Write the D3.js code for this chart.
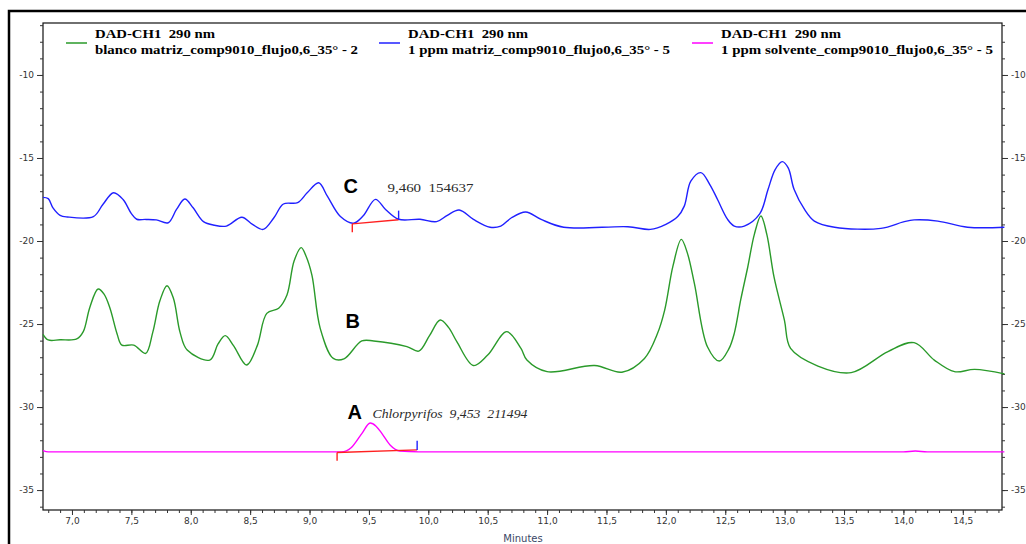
<!DOCTYPE html>
<html>
<head>
<meta charset="utf-8">
<script src="https://cdn.jsdelivr.net/npm/d3@7"></script>
<style>
  body { margin: 0; background: #fff; }
  text { white-space: pre; }
</style>
</head>
<body>
<svg width="1026" height="544"></svg>
<script>
// chromatogram traces, [minutes, value]
var blancoMatriz = [
  [6.756,-25.62],[6.80,-25.96],[6.90,-25.95],[7.04,-25.9],[7.095,-25.46],[7.15,-24.0],[7.22,-22.89],
  [7.27,-23.2],[7.32,-24.05],[7.38,-25.6],[7.42,-26.27],[7.52,-26.27],[7.62,-26.77],[7.68,-25.5],
  [7.74,-23.6],[7.80,-22.69],[7.854,-23.45],[7.91,-25.5],[7.97,-26.57],[8.16,-27.17],[8.23,-26.2],
  [8.29,-25.7],[8.36,-26.3],[8.47,-27.47],[8.56,-26.3],[8.64,-24.36],[8.74,-24.05],[8.81,-23.25],
  [8.87,-21.2],[8.93,-20.4],[8.97,-20.9],[9.02,-22.05],[9.09,-25.26],[9.20,-27.07],[9.29,-27.1],
  [9.44,-26.02],[9.54,-26.02],[9.82,-26.36],[9.92,-26.63],[10.01,-25.7],[10.10,-24.76],[10.17,-25.2],
  [10.24,-26.06],[10.38,-27.5],[10.50,-26.87],[10.66,-25.46],[10.78,-26.47],[10.83,-27.17],
  [11.00,-27.87],[11.40,-27.5],[11.63,-27.9],[11.82,-27.07],[11.93,-25.56],[11.99,-24.16],
  [12.06,-21.5],[12.13,-19.9],[12.18,-20.7],[12.24,-22.55],[12.35,-26.37],[12.45,-27.23],
  [12.53,-26.5],[12.576,-25.56],[12.63,-23.55],[12.69,-21.55],[12.745,-19.6],[12.80,-18.49],
  [12.85,-19.6],[12.91,-22.15],[12.998,-24.76],[13.05,-26.47],[13.28,-27.53],[13.56,-27.93],
  [13.87,-26.66],[14.09,-26.12],[14.26,-27.17],[14.43,-27.87],[14.60,-27.73],[14.85,-28.0]
];

var ppmMatriz = [
  [6.756,-17.37],[6.80,-17.45],[6.84,-18.0],[6.90,-18.45],[6.96,-18.55],[7.18,-18.53],[7.26,-17.8],
  [7.35,-17.09],[7.43,-17.5],[7.50,-18.35],[7.545,-18.69],[7.62,-18.7],[7.71,-18.73],[7.81,-18.9],
  [7.88,-18.1],[7.95,-17.47],[8.02,-18.0],[8.107,-18.83],[8.20,-19.05],[8.30,-19.1],[8.43,-18.57],
  [8.52,-19.0],[8.61,-19.3],[8.70,-18.6],[8.78,-17.77],[8.90,-17.69],[8.98,-17.1],[9.077,-16.49],
  [9.15,-17.3],[9.26,-18.53],[9.37,-18.93],[9.45,-18.5],[9.555,-17.49],[9.64,-18.1],[9.75,-18.69],
  [9.93,-18.69],[10.07,-18.83],[10.16,-18.45],[10.26,-18.13],[10.38,-18.7],[10.52,-19.17],
  [10.61,-19.1],[10.70,-18.6],[10.82,-18.25],[10.95,-18.7],[11.14,-19.17],[11.68,-19.14],
  [11.87,-19.3],[12.00,-19.0],[12.10,-18.53],[12.155,-17.9],[12.21,-16.4],[12.295,-15.88],
  [12.37,-16.6],[12.435,-17.5],[12.52,-18.7],[12.576,-19.1],[12.66,-19.1],[12.79,-18.37],
  [12.86,-16.9],[12.92,-15.7],[12.98,-15.22],[13.03,-15.6],[13.08,-16.9],[13.17,-18.13],
  [13.25,-18.8],[13.42,-19.17],[13.81,-19.24],[14.0,-18.85],[14.09,-18.73],[14.29,-18.8],
  [14.54,-19.17],[14.85,-19.17]
];

var ppmSolvente = [
  [6.756,-32.62],[6.80,-32.7],[9.27,-32.7],[9.35,-32.45],[9.44,-31.6],[9.51,-30.96],[9.56,-31.15],
  [9.61,-31.6],[9.68,-32.3],[9.76,-32.65],[9.92,-32.7],[14.0,-32.7],[14.1,-32.65],[14.2,-32.7],
  [14.85,-32.7]
];

var legendLines = [
  ["DAD-CH1  290 nm", "blanco matriz_comp9010_flujo0,6_35° - 2"],
  ["DAD-CH1  290 nm", "1 ppm matriz_comp9010_flujo0,6_35° - 5"],
  ["DAD-CH1  290 nm", "1 ppm solvente_comp9010_flujo0,6_35° - 5"]
];
var seriesColors = ["#2a9a2a", "#2020ff", "#ff00ff"];

// integration baselines: [start, end] as [minutes, value]
var baselineC = [[9.36,-18.97],[9.75,-18.72]];
var baselineA = [[9.232,-32.74],[9.906,-32.58]];

var peakNotes = [
  {tag: "C", t: 9.285, v: -17.11, label: "9,460  154637", lt: 9.656, italic: false, w: 86},
  {tag: "B", t: 9.302, v: -25.22, label: "", lt: 0, italic: false, w: 0},
  {tag: "A", t: 9.319, v: -30.72, label: "Chlorpyrifos  9,453  211494", lt: 9.53, italic: true, w: 155}
];

var svg = d3.select('svg');
var frame = {left: 43, right: 1002, top: 23, bottom: 510};

var x = d3.scaleLinear().domain([6.756, 14.83]).range([frame.left, frame.right]);
var y = d3.scaleLinear().domain([-36.2, -6.87]).range([frame.bottom, frame.top]);

// outer thick border
svg.append('path')
   .attr('d', 'M9,544 L9,11 L1026,11')
   .attr('fill', 'none')
   .attr('stroke', '#000')
   .attr('stroke-width', 2.5);

svg.append('rect')
   .attr('x', frame.left).attr('y', frame.top)
   .attr('width', frame.right - frame.left)
   .attr('height', frame.bottom - frame.top)
   .attr('fill', 'none')
   .attr('stroke', '#111')
   .attr('stroke-width', 1.2);

var majorY = d3.range(-35, -9, 5);
var minorY = d3.range(-36, -6, 1);
var majorX = d3.range(7.0, 14.51, 0.5);
var minorX = d3.range(6.8, 14.81, 0.1);

function styleAxis(g) {
    g.select('.domain').remove();
    g.selectAll('line').attr('stroke', '#333');
    g.selectAll('text')
     .attr('font-family', 'DejaVu Sans, sans-serif')
     .attr('font-size', 9)
     .attr('fill', '#333');
}

svg.append('g')
   .attr('transform', 'translate(' + frame.left + ',0)')
   .call(d3.axisLeft(y).tickValues(minorY).tickSize(3).tickFormat(''))
   .call(styleAxis);
svg.append('g')
   .attr('transform', 'translate(' + frame.left + ',0)')
   .call(d3.axisLeft(y).tickValues(majorY).tickSize(6).tickPadding(3).tickFormat(function(d) { return String(d); }))
   .call(styleAxis);

svg.append('g')
   .attr('transform', 'translate(' + frame.right + ',0)')
   .call(d3.axisRight(y).tickValues(minorY).tickSize(3).tickFormat(''))
   .call(styleAxis);
svg.append('g')
   .attr('transform', 'translate(' + frame.right + ',0)')
   .call(d3.axisRight(y).tickValues(majorY).tickSize(6).tickPadding(3).tickFormat(function(d) { return String(d); }))
   .call(styleAxis);

svg.append('g')
   .attr('transform', 'translate(0,' + frame.bottom + ')')
   .call(d3.axisBottom(x).tickValues(minorX).tickSize(3).tickFormat(''))
   .call(styleAxis);
svg.append('g')
   .attr('transform', 'translate(0,' + frame.bottom + ')')
   .call(d3.axisBottom(x).tickValues(majorX).tickSize(5).tickPadding(3)
         .tickFormat(function(d) { return d.toFixed(1).replace('.', ','); }))
   .call(styleAxis);

svg.append('text')
   .attr('x', 523).attr('y', 542)
   .attr('text-anchor', 'middle')
   .attr('font-family', 'DejaVu Sans, sans-serif')
   .attr('font-size', 10)
   .attr('fill', '#3a4766')
   .text('Minutes');

function traceLine(curve) {
    return d3.line()
        .x(function(d) { return x(d[0]); })
        .y(function(d) { return y(d[1]); })
        .curve(curve);
}

var traces = [
    {data: ppmSolvente, color: seriesColors[2], curve: d3.curveMonotoneX},
    {data: blancoMatriz, color: seriesColors[0], curve: d3.curveCatmullRom.alpha(0.5)},
    {data: ppmMatriz, color: seriesColors[1], curve: d3.curveCatmullRom.alpha(0.5)}
];

traces.forEach(function(tr) {
    svg.append('path')
       .datum(tr.data)
       .attr('d', traceLine(tr.curve))
       .attr('fill', 'none')
       .attr('stroke', tr.color)
       .attr('stroke-width', 1.4);
});

// integration marks
[baselineC, baselineA].forEach(function(b) {
    svg.append('path')
       .datum(b)
       .attr('d', traceLine(d3.curveLinear))
       .attr('stroke', '#ff2020')
       .attr('stroke-width', 1.4);
    svg.append('line')
       .attr('x1', x(b[0][0])).attr('x2', x(b[0][0]))
       .attr('y1', y(b[0][1])).attr('y2', y(b[0][1] - 0.5))
       .attr('stroke', '#ff2020').attr('stroke-width', 1.4);
    svg.append('line')
       .attr('x1', x(b[1][0])).attr('x2', x(b[1][0]))
       .attr('y1', y(b[1][1])).attr('y2', y(b[1][1] + 0.55))
       .attr('stroke', '#2020ff').attr('stroke-width', 1.4);
});

peakNotes.forEach(function(n) {
    svg.append('text')
       .attr('x', x(n.t)).attr('y', y(n.v))
       .attr('font-family', 'Liberation Sans, Arial, sans-serif')
       .attr('font-weight', 'bold')
       .attr('font-size', 20)
       .attr('fill', '#000')
       .text(n.tag);
    if (n.label) {
        svg.append('text')
           .attr('x', x(n.lt)).attr('y', y(n.v) - 1)
           .attr('font-family', 'Liberation Serif, serif')
           .attr('font-style', n.italic ? 'italic' : 'normal')
           .attr('font-size', 12.5)
           .attr('textLength', n.w)
           .attr('lengthAdjust', 'spacingAndGlyphs')
           .attr('fill', '#2a2a2a')
           .text(n.label);
    }
});

// legend
var legend = svg.selectAll('.legend')
    .data(legendLines).enter()
    .append('g')
    .attr('class', 'legend')
    .attr('transform', function(d, i) { return 'translate(' + (95 + i * 313) + ',0)'; });

legend.append('line')
    .attr('x1', -29).attr('x2', -8)
    .attr('y1', 43).attr('y2', 43)
    .attr('stroke', function(d, i) { return seriesColors[i]; })
    .attr('stroke-width', 1.5);

legend.append('text')
    .attr('y', 38)
    .attr('font-family', 'Liberation Serif, serif')
    .attr('font-weight', 'bold')
    .attr('font-size', 12)
    .attr('textLength', 120)
    .attr('lengthAdjust', 'spacingAndGlyphs')
    .text(function(d) { return d[0]; });

legend.append('text')
    .attr('y', 54)
    .attr('font-family', 'Liberation Serif, serif')
    .attr('font-weight', 'bold')
    .attr('font-size', 12)
    .attr('textLength', function(d, i) { return [263, 262, 272][i]; })
    .attr('lengthAdjust', 'spacingAndGlyphs')
    .text(function(d) { return d[1]; });
</script>
</body>
</html>
